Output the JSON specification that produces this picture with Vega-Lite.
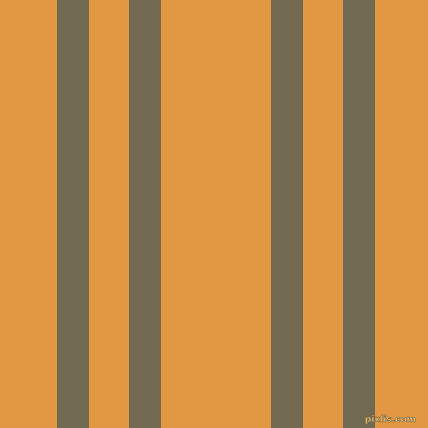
{
  "$schema": "https://vega.github.io/schema/vega-lite/v6.json",
  "width": 428,
  "height": 428,
  "autosize": {"type": "fit", "contains": "padding"},
  "padding": 0,
  "background": "#E29842",
  "view": {"stroke": null},
  "layer": [
    {
      "data": {
        "values": [
          {"start": 57, "end": 89},
          {"start": 129, "end": 161},
          {"start": 271, "end": 303},
          {"start": 343, "end": 375}
        ]
      },
      "mark": {"type": "rect", "color": "#716A50"},
      "encoding": {
        "x": {"field": "start", "type": "quantitative", "scale": {"domain": [0, 428], "nice": false, "zero": false}, "axis": null},
        "x2": {"field": "end"},
        "y": {"datum": 0, "type": "quantitative", "scale": {"domain": [0, 428], "nice": false}, "axis": null},
        "y2": {"datum": 428}
      }
    },
    {
      "data": {"values": [{"label": "pixlis.com", "px": 416, "py": 9}]},
      "mark": {"type": "text", "align": "right", "baseline": "middle", "font": "DejaVu Sans", "fontSize": 9, "fontWeight": "bold", "color": "#FBE3B0", "stroke": "#7A5A28", "strokeWidth": 0.6},
      "encoding": {
        "x": {"field": "px", "type": "quantitative"},
        "y": {"field": "py", "type": "quantitative"},
        "text": {"field": "label"}
      }
    }
  ]
}
